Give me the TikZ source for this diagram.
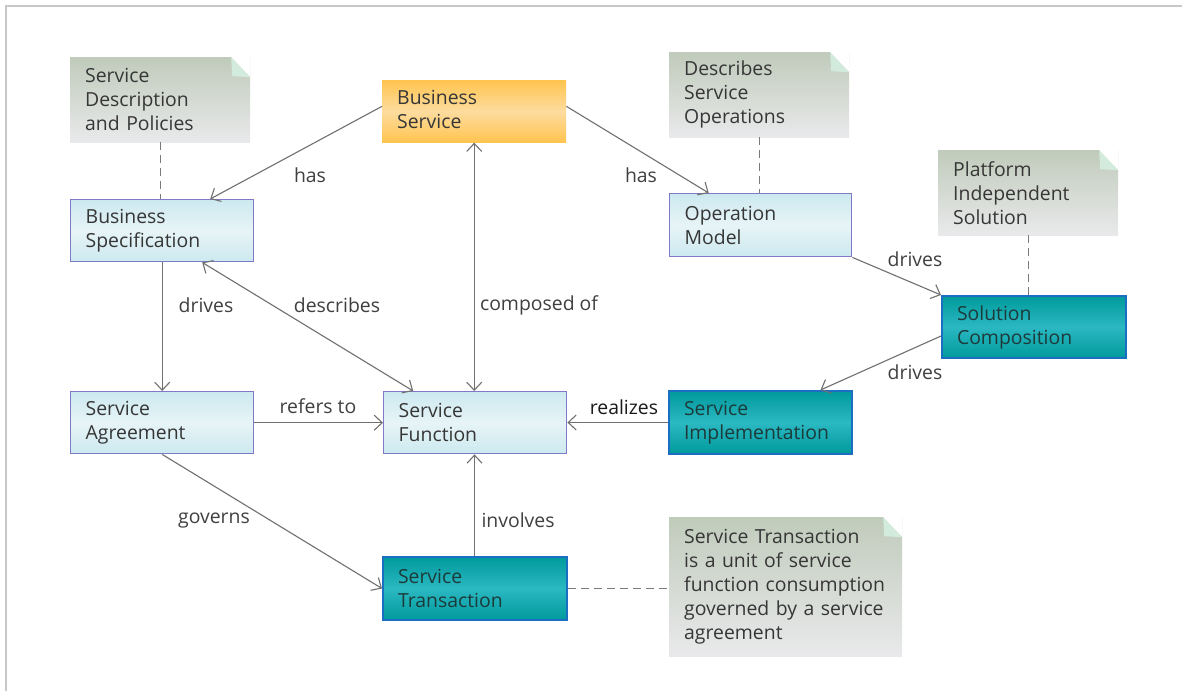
\documentclass[tikz,border=0pt]{standalone}
\usepackage{fontspec}
\setmainfont{Open Sans}
\usetikzlibrary{arrows.meta}

\definecolor{txt}{HTML}{363636}
\definecolor{lbltxt}{HTML}{404040}
\definecolor{edgec}{HTML}{707070}
\definecolor{dashc}{HTML}{7A7A7A}
\definecolor{framec}{HTML}{C8C8C8}
\definecolor{bluetop}{HTML}{CCE9F0}
\definecolor{bluemid}{HTML}{E7F4F6}
\definecolor{blueline}{HTML}{7F79C8}
\definecolor{orange1}{HTML}{FFC44F}
\definecolor{orange2}{HTML}{FDDC9E}
\definecolor{teal1}{HTML}{009A9C}
\definecolor{teal2}{HTML}{2BB8C2}
\definecolor{tealline}{HTML}{1B6EC2}
\definecolor{tealtxt}{HTML}{1D3A3A}
\definecolor{notetop}{HTML}{C0CBBB}
\definecolor{notebot}{HTML}{E9E9EB}
\definecolor{fold}{HTML}{D2EBDD}

\tikzset{
  basefont/.style={font=\fontsize{19.4}{24}\selectfont},
  box/.style={rectangle, basefont, anchor=north west, align=left,
    inner xsep=15pt, inner ysep=0pt, text=txt},
  lightbox/.style={box, draw=blueline, line width=1.4pt,
    top color=bluetop, bottom color=bluetop, middle color=bluemid},
  tealbox/.style={box, draw=tealline, line width=2pt, text=tealtxt,
    top color=teal1, bottom color=teal1, middle color=teal2},
  orangebox/.style={box, top color=orange1, bottom color=orange1,
    middle color=orange2},
  note/.style={box, top color=notetop, bottom color=notebot,
    path picture={
      \fill[white] ([xshift=-19pt]path picture bounding box.north east)
        -- (path picture bounding box.north east)
        -- ([yshift=-20pt]path picture bounding box.north east) -- cycle;
      \fill[fold] ([xshift=-19pt]path picture bounding box.north east)
        -- ([yshift=-20pt]path picture bounding box.north east)
        -- ([xshift=-18pt,yshift=-19pt]path picture bounding box.north east) -- cycle;
    }},
  lbl/.style={basefont, text=lbltxt, inner sep=0pt},
  conn/.style={draw=edgec, line width=1.1pt,
    -{Straight Barb[length=8pt,width=15pt,line width=1.1pt]}},
  biconn/.style={draw=edgec, line width=1.1pt,
    {Straight Barb[length=8pt,width=15pt,line width=1.1pt]}-{Straight Barb[length=8pt,width=15pt,line width=1.1pt]}},
  noteline/.style={draw=dashc, line width=1.1pt, dash pattern=on 8pt off 5pt},
}

\begin{document}
\begin{tikzpicture}[x=1pt,y=-1pt]
  % canvas and frame
  \useasboundingbox[fill=white] (0,0) rectangle (1182,691);
  \draw[framec, line width=2pt] (5.5,691) -- (5.5,5.5) -- (1182,5.5);

  % notes
  \node[note, text width=150pt, minimum height=85pt] (n1) at (70,57)
    {Service\\Description\\and Policies};
  \node[note, text width=150pt, minimum height=85pt] (n2) at (669,52)
    {Describes\\Service\\Operations};
  \node[note, text width=150pt, minimum height=85pt] (n3) at (938,150)
    {Platform\\Independent\\Solution};
  \node[note, text width=203pt, minimum height=139pt] (n4) at (669,517)
    {Service Transaction\\is a unit of service\\function consumption\\governed by a service\\agreement};

  % model elements
  \node[orangebox, text width=154pt, inner ysep=10pt, text depth=28pt] (bsvc) at (382,80)
    {Business\\Service};
  \node[lightbox, text width=153pt, minimum height=62pt] (bspec) at (70,199)
    {Business\\Specification};
  \node[lightbox, text width=152pt, minimum height=63pt] (opm) at (669,193)
    {Operation\\Model};
  \node[tealbox, text width=154pt, minimum height=62pt] (solc) at (941,295)
    {Solution\\Composition};
  \node[lightbox, text width=153pt, minimum height=62pt] (sagr) at (70,391)
    {Service\\Agreement};
  \node[lightbox, text width=153pt, minimum height=62pt] (sfun) at (383,391)
    {Service\\Function};
  \node[tealbox, text width=153pt, minimum height=63pt] (simp) at (668,390)
    {Service\\Implementation};
  \node[tealbox, text width=154pt, minimum height=63pt] (strn) at (382,556)
    {Service\\Transaction};

  % relations
  \draw[conn] ([yshift=5pt]bsvc.west) -- ([xshift=48pt]bspec.north);
  \draw[conn] ([yshift=5pt]bsvc.east) -- ([xshift=-52pt]opm.north);
  \draw[biconn] (bsvc.south) -- (bsvc.south |- sfun.north);
  \draw[conn] (bspec.south) -- (sagr.north);
  \draw[biconn] ([xshift=-62pt]sfun.north) -- ([xshift=40pt]bspec.south);
  \draw[conn] (sagr.east) -- (sfun.west);
  \draw[conn] (simp.west) -- (simp.west -| sfun.east);
  \draw[conn] (opm.south east) -- (solc.north west);
  \draw[conn] ([yshift=-9pt]solc.west) -- ([xshift=60pt]simp.north);
  \draw[conn] (sagr.south) -- (strn.west);
  \draw[conn] ([xshift=-0.5pt]strn.north) -- ([xshift=-0.5pt]strn.north |- sfun.south);

  % note attachments
  \draw[noteline] (n1.south) -- (n1.south |- bspec.north);
  \draw[noteline] (n2.south) -- (n2.south |- opm.north);
  \draw[noteline] (n3.south) -- (n3.south |- solc.north);
  \draw[noteline] (strn.east) -- (strn.east -| n4.west);

  % relation labels
  \node[lbl] (lhas1) at (310,175) {has};
  \node[lbl] (lhas2) at (641,175) {has};
  \node[lbl] (lcomp) at (539,305) {composed of};
  \node[lbl] (ldrv1) at (206,305) {drives};
  \node[lbl] (ldesc) at (337,305) {describes};
  \node[lbl] (lref)  at (318,406) {refers to};
  \node[lbl, text=black!90] (lreal) at (624,407) {realizes};
  \node[lbl] (ldrv2) at (915,259) {drives};
  \node[lbl] (ldrv3) at (915,372) {drives};
  \node[lbl] (lgov)  at (214,521) {governs};
  \node[lbl] (linv)  at (518,520) {involves};
\end{tikzpicture}
\end{document}
